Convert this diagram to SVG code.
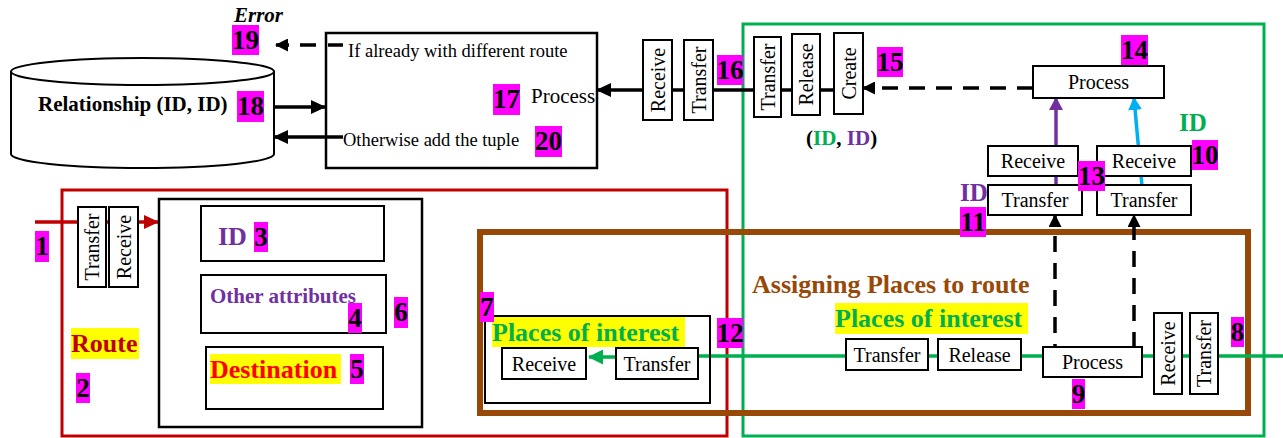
<svg xmlns="http://www.w3.org/2000/svg" width="1283" height="438" viewBox="0 0 1283 438">
<style>
text{font-family:"Liberation Serif","Times New Roman",serif;}
.box{fill:#fff;stroke:#000;stroke-width:2;}
.frame{fill:none;stroke:#000;stroke-width:2.5;}
.lbl{font-size:20px;fill:#000;text-anchor:middle;}
.num rect{fill:#FF00FF;}
.num text{font-size:27px;font-weight:bold;fill:#000;text-anchor:middle;}
.b{font-weight:bold;}
.hl{fill:#FFFF00;}
.blk{stroke:#000;stroke-width:3.5;fill:none;}
.dash{stroke:#000;stroke-width:3.5;fill:none;stroke-dasharray:16 11;}
</style>
<defs>
<marker id="ab" viewBox="0 0 15 14" markerWidth="15" markerHeight="14" refX="14" refY="7" orient="auto" markerUnits="userSpaceOnUse"><path d="M0,0 L15,7 L0,14 Z" fill="#000"/></marker>
<marker id="ar" viewBox="0 0 15 14" markerWidth="15" markerHeight="14" refX="14" refY="7" orient="auto" markerUnits="userSpaceOnUse"><path d="M0,0 L15,7 L0,14 Z" fill="#C00000"/></marker>
<marker id="ag" viewBox="0 0 15 15" markerWidth="15" markerHeight="15" refX="14" refY="7.5" orient="auto" markerUnits="userSpaceOnUse"><path d="M0,0 L15,7.5 L0,15 Z" fill="#00B050"/></marker>
<marker id="ap" viewBox="0 0 13 14" markerWidth="13" markerHeight="14" refX="12" refY="7" orient="auto" markerUnits="userSpaceOnUse"><path d="M0,0 L13,7 L0,14 Z" fill="#7030A0"/></marker>
<marker id="ac" viewBox="0 0 13 14" markerWidth="13" markerHeight="14" refX="12" refY="7" orient="auto" markerUnits="userSpaceOnUse"><path d="M0,0 L13,7 L0,14 Z" fill="#00B0F0"/></marker>
<marker id="as" viewBox="0 0 13 13" markerWidth="13" markerHeight="13" refX="12" refY="6.5" orient="auto" markerUnits="userSpaceOnUse"><path d="M0,0 L13,6.5 L0,13 Z" fill="#000"/></marker>
</defs>
<rect width="1283" height="438" fill="#fff"/>

<!-- container frames -->
<g id="route-frame"><rect x="62" y="190" width="665" height="246" fill="none" stroke="#C00000" stroke-width="3"/></g>
<g id="green-frame"><rect x="743" y="24" width="521" height="412" fill="none" stroke="#00B050" stroke-width="3"/></g>
<g id="assign-frame"><rect x="480" y="232" width="768" height="181" fill="none" stroke="#984807" stroke-width="6"/>
<text x="752" y="293" class="b" font-size="26" fill="#984807">Assigning Places to route</text></g>

<!-- connectors -->
<g id="connectors">
<line x1="35" y1="222" x2="158" y2="222" stroke="#C00000" stroke-width="3.5" marker-end="url(#ar)"/>
<line x1="272" y1="107" x2="325" y2="107" class="blk" marker-end="url(#ab)"/>
<line x1="343" y1="137" x2="274" y2="137" class="blk" marker-end="url(#ab)"/>
<line x1="343" y1="45" x2="276" y2="45" class="dash" stroke-dasharray="15 12" marker-end="url(#as)"/>
<line x1="848" y1="90" x2="597" y2="90" class="blk" marker-end="url(#ab)"/>
<line x1="1033" y1="88" x2="863" y2="88" class="dash" stroke-dasharray="20 13" marker-end="url(#as)"/>
<line x1="1056" y1="186" x2="1056" y2="98" stroke="#7030A0" stroke-width="3.5" marker-end="url(#ap)"/>
<line x1="1142" y1="186" x2="1134" y2="98" stroke="#00B0F0" stroke-width="3.5" marker-end="url(#ac)"/>
<line x1="1055" y1="360" x2="1055" y2="215" class="dash" marker-end="url(#as)"/>
<line x1="1134" y1="348" x2="1134" y2="215" class="dash" marker-end="url(#as)"/>
<line x1="1283" y1="356" x2="698" y2="356" stroke="#00B050" stroke-width="3.5"/>
<line x1="616" y1="357" x2="589" y2="357" stroke="#00B050" stroke-width="3.5" marker-end="url(#ag)"/>
</g>

<!-- database -->
<g id="db">
<path d="M11,71.5 L11,154 A131.5,14 0 0 0 274,154 L274,71.5" fill="#fff" stroke="#000" stroke-width="2"/>
<ellipse cx="142.5" cy="71.5" rx="131.5" ry="13.5" fill="#fff" stroke="#000" stroke-width="2"/>
<text x="38" y="111" class="b" font-size="21">Relationship (ID, ID)</text>
</g>

<!-- process 17 -->
<g id="proc17">
<rect x="326" y="33" width="271" height="135" class="frame" fill="#fff" style="fill:#fff"/>
<line x1="343" y1="45" x2="328" y2="45" stroke="#000" stroke-width="3.5"/>
<line x1="343" y1="137" x2="326" y2="137" stroke="#000" stroke-width="3.5"/>
<text x="348" y="57" font-size="18.5">If already with different route</text>
<text x="531" y="103" font-size="21">Process</text>
<text x="343" y="146" font-size="18.5">Otherwise add the tuple</text>
</g>
<text x="234" y="22" class="b" font-style="italic" font-size="21">Error</text>

<!-- vertical boxes top -->
<g id="v16r"><rect x="643" y="40" width="29" height="80" class="box"/><text class="lbl" transform="translate(657.5,80) rotate(-90)" dy="7">Receive</text></g>
<g id="v16t"><rect x="684" y="40" width="29" height="80" class="box"/><text class="lbl" transform="translate(698.5,80) rotate(-90)" dy="7">Transfer</text></g>
<g id="v15t"><rect x="754" y="37" width="27" height="80" class="box"/><text class="lbl" transform="translate(767.5,77) rotate(-90)" dy="7">Transfer</text></g>
<g id="v15r"><rect x="792" y="34" width="28" height="81" class="box"/><text class="lbl" transform="translate(806,74.5) rotate(-90)" dy="7">Release</text></g>
<g id="v15c"><rect x="834" y="33" width="29" height="81" class="box"/><text class="lbl" transform="translate(848.5,73.5) rotate(-90)" dy="7">Create</text></g>
<text x="806" y="145" class="b" font-size="21">(<tspan fill="#00B050">ID</tspan>, <tspan fill="#7030A0">ID</tspan>)</text>

<!-- process 14 and pairs -->
<g id="p14"><rect x="1033" y="66" width="131" height="32" class="box"/><text x="1098.5" y="89" class="lbl" font-size="21">Process</text></g>
<g id="rl"><rect x="988" y="146" width="90" height="30" class="box"/><text x="1033" y="168" class="lbl">Receive</text></g>
<g id="tl"><rect x="988" y="185" width="94" height="30" class="box"/><text x="1035" y="207" class="lbl">Transfer</text></g>
<g id="rr"><rect x="1097" y="146" width="94" height="30" class="box"/><text x="1144" y="168" class="lbl">Receive</text></g>
<g id="tr"><rect x="1097" y="185" width="94" height="30" class="box"/><text x="1144" y="207" class="lbl">Transfer</text></g>
<text x="1179" y="131" class="b" font-size="25" fill="#00B050">ID</text>
<text x="960" y="201" class="b" font-size="25" fill="#7030A0">ID</text>

<!-- route -->
<g id="route">
<rect x="78" y="207" width="28" height="80" class="box"/><text class="lbl" transform="translate(92,247) rotate(-90)" dy="7">Transfer</text>
<rect x="109" y="207" width="29" height="80" class="box"/><text class="lbl" transform="translate(123.5,247) rotate(-90)" dy="7">Receive</text>
<rect x="71" y="328" width="68" height="31" class="hl"/>
<text x="71" y="352" class="b" font-size="26" fill="#C00000">Route</text>
</g>
<g id="attrs">
<rect x="159" y="199" width="263" height="228" class="frame"/>
<rect x="201" y="206" width="183" height="55" class="frame" style="stroke-width:2"/>
<text x="218" y="245" class="b" font-size="26" fill="#7030A0">ID</text>
<rect x="201" y="275" width="185" height="58" class="frame" style="stroke-width:2"/>
<text x="210" y="303" class="b" font-size="21" fill="#7030A0">Other attributes</text>
<rect x="206" y="347" width="177" height="62" class="frame" style="stroke-width:2"/>
<rect x="210" y="354" width="131" height="30" class="hl"/>
<text x="210" y="378" class="b" font-size="26" fill="#FF0000">Destination</text>
</g>

<!-- places of interest (left) -->
<g id="poi">
<rect x="485" y="316" width="225" height="87" class="frame" style="stroke-width:2"/>
<rect x="492" y="317" width="193" height="30" class="hl"/>
<text x="492" y="341" class="b" font-size="26" fill="#00B050">Places of interest</text>
<rect x="502" y="348" width="84" height="31" class="box"/><text x="544" y="371" class="lbl">Receive</text>
<rect x="616" y="348" width="82" height="31" class="box"/><text x="657" y="371" class="lbl">Transfer</text>
</g>

<!-- bottom chain -->
<g id="chain">
<rect x="835" y="303" width="193" height="31" class="hl"/>
<text x="835" y="327" class="b" font-size="26" fill="#00B050">Places of interest</text>
<rect x="846" y="339" width="82" height="31" class="box"/><text x="887" y="362" class="lbl">Transfer</text>
<rect x="938" y="339" width="83" height="31" class="box"/><text x="979.5" y="362" class="lbl">Release</text>
</g>
<g id="p9"><rect x="1043" y="347" width="99" height="30" class="box"/><text x="1092.5" y="369" class="lbl">Process</text></g>
<g id="v8">
<rect x="1154" y="313" width="28" height="81" class="box"/><text class="lbl" transform="translate(1168,353.5) rotate(-90)" dy="7">Receive</text>
<rect x="1190" y="313" width="28" height="81" class="box"/><text class="lbl" transform="translate(1204,353.5) rotate(-90)" dy="7">Transfer</text>
</g>

<!-- number labels -->
<g class="num" id="nums">
<rect x="35" y="231" width="14" height="31"/><text x="42" y="255">1</text>
<rect x="76" y="373" width="14" height="30"/><text x="83" y="397">2</text>
<rect x="254" y="222" width="14" height="30"/><text x="261" y="246">3</text>
<rect x="348" y="303" width="14" height="30"/><text x="355" y="327">4</text>
<rect x="350" y="354" width="14" height="30"/><text x="357" y="378">5</text>
<rect x="394" y="297" width="14" height="31"/><text x="401" y="321">6</text>
<rect x="480" y="292" width="14" height="30"/><text x="487" y="316">7</text>
<rect x="1231" y="317" width="13" height="30"/><text x="1237.5" y="341">8</text>
<rect x="1072" y="379" width="13" height="30"/><text x="1078.5" y="403">9</text>
<rect x="1192" y="140" width="26" height="30"/><text x="1205" y="164">10</text>
<rect x="960" y="207" width="26" height="30"/><text x="973" y="231">11</text>
<rect x="717" y="318" width="26" height="30"/><text x="730" y="342">12</text>
<rect x="1078" y="161" width="27" height="30"/><text x="1091.5" y="185">13</text>
<rect x="1121" y="35" width="27" height="30"/><text x="1134.5" y="59">14</text>
<rect x="877" y="47" width="26" height="30"/><text x="890" y="71">15</text>
<rect x="717" y="55" width="26" height="30"/><text x="730" y="79">16</text>
<rect x="493" y="84" width="27" height="31"/><text x="506.5" y="108">17</text>
<rect x="237" y="91" width="27" height="31"/><text x="250.5" y="115">18</text>
<rect x="232" y="25" width="27" height="30"/><text x="245.5" y="49">19</text>
<rect x="535" y="126" width="27" height="31"/><text x="548.5" y="150">20</text>
</g>
</svg>
